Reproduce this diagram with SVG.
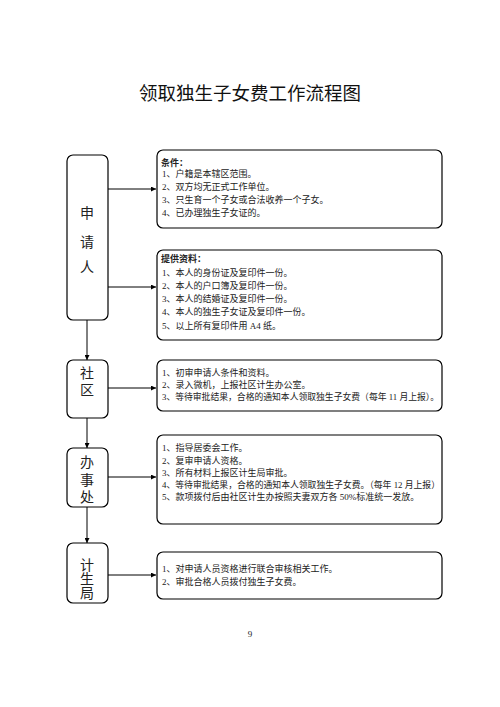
<svg xmlns="http://www.w3.org/2000/svg" width="500" height="707" viewBox="0 0 500 707">
<style>
.bx{fill:#fff;stroke:#000;stroke-width:1.2}
.ln{fill:none;stroke:#000;stroke-width:1}
.t{font-family:"Liberation Serif","Noto Sans CJK SC",serif;font-size:9px;fill:#222}
.b{font-weight:bold}
.l{font-family:"Liberation Serif","Noto Sans CJK SC",serif;font-size:14px;fill:#222;text-anchor:middle}
.ti{font-family:"Liberation Serif","Noto Sans CJK SC",serif;font-size:18.5px;fill:#111;text-anchor:middle}
</style>
<defs>
<marker id="ar" viewBox="0 0 10 10" refX="10" refY="5" markerWidth="5" markerHeight="5" markerUnits="userSpaceOnUse" orient="auto">
<path d="M0,0 L10,5 L0,10 z" fill="#000"/>
</marker>
</defs>
<rect width="500" height="707" fill="#fff"/>
<text class="ti" x="250" y="100">领取独生子女费工作流程图</text>

<g id="connectors">
<line class="ln" x1="108" y1="189" x2="156" y2="189" marker-end="url(#ar)"/>
<line class="ln" x1="108" y1="287" x2="156" y2="287" marker-end="url(#ar)"/>
<line class="ln" x1="87" y1="320" x2="87" y2="360" marker-end="url(#ar)"/>
<line class="ln" x1="108" y1="388" x2="156" y2="388" marker-end="url(#ar)"/>
<line class="ln" x1="87" y1="418" x2="87" y2="448" marker-end="url(#ar)"/>
<line class="ln" x1="108" y1="477" x2="156" y2="477" marker-end="url(#ar)"/>
<line class="ln" x1="87" y1="507" x2="87" y2="543" marker-end="url(#ar)"/>
<line class="ln" x1="108" y1="575" x2="156" y2="575" marker-end="url(#ar)"/>
</g>

<g id="n-applicant">
<rect class="bx" x="67" y="155" width="41" height="165" rx="6"/>
<text class="l" x="87" y="218">申</text>
<text class="l" x="87" y="247">请</text>
<text class="l" x="87" y="272">人</text>
</g>
<g id="n-conditions">
<rect class="bx" x="157" y="150" width="285" height="78" rx="6"/>
<text class="t b" x="161" y="166">条件：</text>
<text class="t" x="162" y="176.5">1、户籍是本辖区范围。</text>
<text class="t" x="162" y="189.5">2、双方均无正式工作单位。</text>
<text class="t" x="162" y="202.5">3、只生育一个子女或合法收养一个子女。</text>
<text class="t" x="162" y="215.5">4、已办理独生子女证的。</text>
</g>
<g id="n-materials">
<rect class="bx" x="157" y="250" width="285" height="90" rx="6"/>
<text class="t b" x="161" y="261.5">提供资料：</text>
<text class="t" x="162" y="275.5">1、本人的身份证及复印件一份。</text>
<text class="t" x="162" y="288.5">2、本人的户口簿及复印件一份。</text>
<text class="t" x="162" y="301.5">3、本人的结婚证及复印件一份。</text>
<text class="t" x="162" y="315">4、本人的独生子女证及复印件一份。</text>
<text class="t" x="162" y="328.5">5、以上所有复印件用 A4 纸。</text>
</g>

<g id="n-community">
<rect class="bx" x="67" y="360" width="41" height="58" rx="6"/>
<text class="l" x="87" y="378">社</text>
<text class="l" x="87" y="395">区</text>
</g>
<g id="n-community-tasks">
<rect class="bx" x="157" y="360" width="285" height="51" rx="6"/>
<text class="t" x="162" y="376">1、初审申请人条件和资料。</text>
<text class="t" x="162" y="388">2、录入微机，上报社区计生办公室。</text>
<text class="t" x="162" y="400" textLength="277" lengthAdjust="spacingAndGlyphs">3、等待审批结果，合格的通知本人领取独生子女费（每年 11 月上报）。</text>
</g>

<g id="n-office">
<rect class="bx" x="67" y="448" width="41" height="59" rx="6"/>
<text class="l" x="87" y="467">办</text>
<text class="l" x="87" y="485">事</text>
<text class="l" x="87" y="502">处</text>
</g>
<g id="n-office-tasks">
<rect class="bx" x="157" y="435" width="285" height="89" rx="6"/>
<text class="t" x="162" y="451">1、指导居委会工作。</text>
<text class="t" x="162" y="464">2、复审申请人资格。</text>
<text class="t" x="162" y="476">3、所有材料上报区计生局审批。</text>
<text class="t" x="162" y="488" textLength="278" lengthAdjust="spacingAndGlyphs">4、等待审批结果，合格的通知本人领取独生子女费。（每年 12 月上报）</text>
<text class="t" x="162" y="500">5、款项拨付后由社区计生办按照夫妻双方各 50%标准统一发放。</text>
</g>

<g id="n-bureau">
<rect class="bx" x="67" y="543" width="41" height="60" rx="6"/>
<text class="l" x="87" y="570">计</text>
<text class="l" x="87" y="584">生</text>
<text class="l" x="87" y="598">局</text>
</g>
<g id="n-bureau-tasks">
<rect class="bx" x="157" y="552" width="285" height="47" rx="6"/>
<text class="t" x="162" y="572">1、对申请人员资格进行联合审核相关工作。</text>
<text class="t" x="162" y="585">2、审批合格人员拨付独生子女费。</text>
</g>

<text class="t" x="250" y="637" text-anchor="middle" font-size="8">9</text>
</svg>
